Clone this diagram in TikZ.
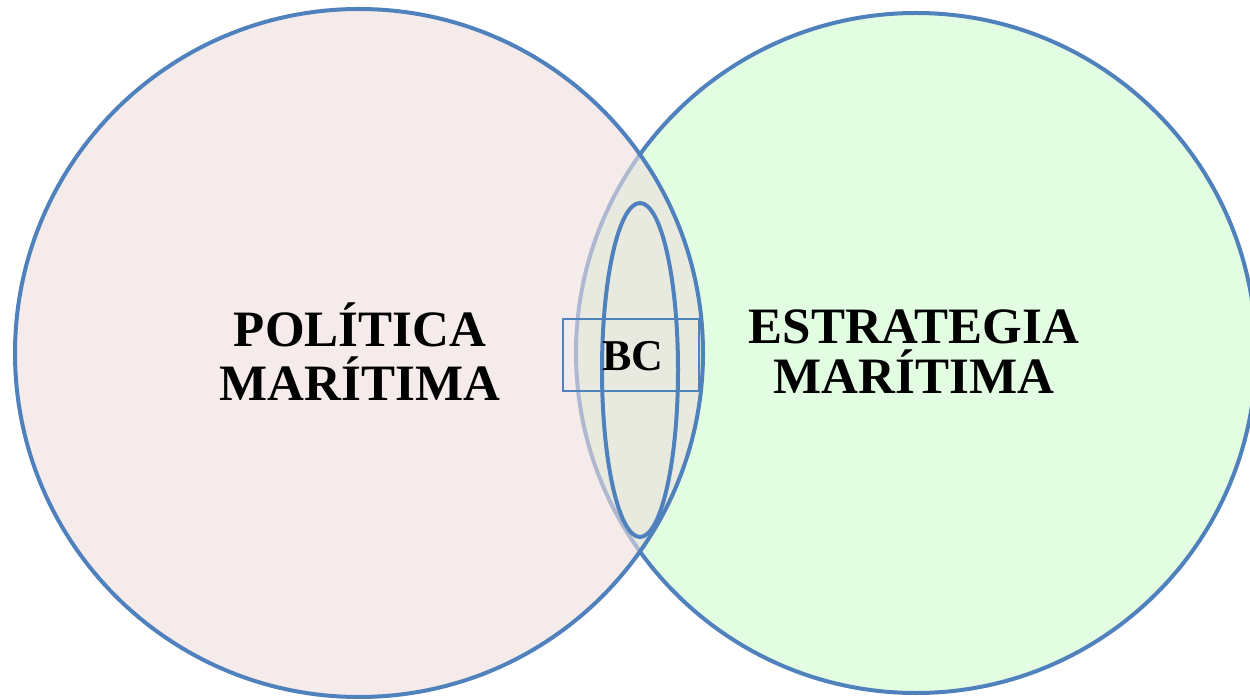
\documentclass[tikz,border=0pt]{standalone}
\usepackage{fontspec}
\setmainfont{Liberation Serif}
\usepackage{tikz}
\usetikzlibrary{shapes.geometric}

\definecolor{vennblue}{RGB}{79,129,189}
\definecolor{politicafill}{RGB}{238,222,222}
\definecolor{estrategiafill}{RGB}{227,253,226}

\begin{document}
\begin{tikzpicture}[x=1pt, y=-1pt,
    vennset/.style={circle, draw=vennblue, line width=4pt, inner sep=0pt},
    settext/.style={font=\fontsize{51}{#1}\selectfont\bfseries, align=center}]
      \useasboundingbox (0,0) rectangle (1250,700);

      %% Two sets
      \node[vennset, fill=estrategiafill, minimum size=680pt] (EM) at (916,353) {};
      \node[vennset, fill=politicafill, fill opacity=0.6, minimum size=688pt] (PM) at (359,353) {};

      %% Common area
      \node[ellipse, draw=vennblue, line width=4pt, inner sep=0pt,
            minimum width=76pt, minimum height=334pt] (BCzone) at (640,370) {};
      \node[draw=vennblue, line width=1.2pt, inner sep=0pt,
            minimum width=136pt, minimum height=72pt] (BCbox) at (631,355) {};
      \node[font=\fontsize{44}{48}\selectfont\bfseries] (BC) at (633,356) {BC};

      %% Set names
      \node[settext=54] (PMtext) at (360,351.5) {POLÍTICA\\MARÍTIMA};
      \node[settext=50] (EMtext) at (914,352) {ESTRATEGIA\\MARÍTIMA};
\end{tikzpicture}
\end{document}
